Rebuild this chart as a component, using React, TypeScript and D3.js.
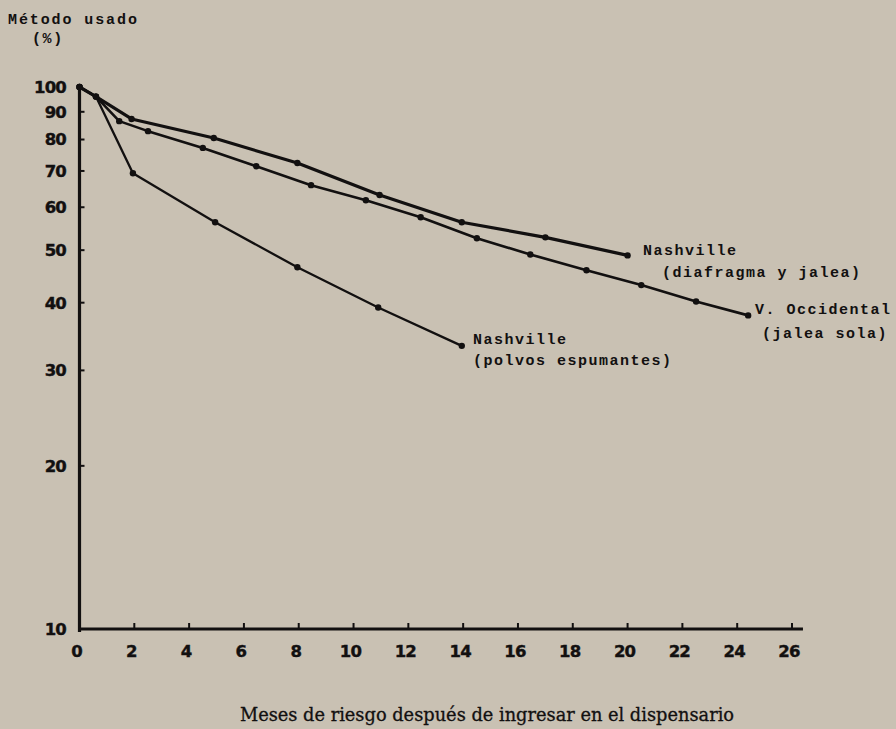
import React, { useEffect, useRef } from "react";
import * as d3 from "d3";

const W = 896;
const H = 729;

const xTicks = [0, 2, 4, 6, 8, 10, 12, 14, 16, 18, 20, 22, 24, 26];
const yTicks = [10, 20, 30, 40, 50, 60, 70, 80, 90, 100];
const yTickLabels = ["10", "20", "30", "40", "50", "60", "70", "80", "90", "100"];

const diafragmaX = [0, 0.6, 1.9, 4.9, 7.95, 10.95, 13.95, 17.0, 20.0];
const diafragmaY = [100, 96, 87.3, 80.5, 72.4, 63.2, 56.3, 52.8, 48.9];

const jaleaX = [0, 0.6, 1.45, 2.5, 4.5, 6.45, 8.45, 10.45, 12.45, 14.5, 16.45, 18.5, 20.5, 22.5, 24.4];
const jaleaY = [100, 96, 86.5, 82.9, 77.2, 71.4, 65.9, 61.8, 57.5, 52.6, 49.1, 45.9, 43.1, 40.2, 37.9];

const polvosX = [0, 0.6, 1.95, 4.95, 7.95, 10.9, 13.95];
const polvosY = [100, 96, 69.3, 56.3, 46.5, 39.2, 33.3];

const seriesNames = ["diafragma", "jalea", "polvos"];
const seriesLabels = [
  ["Nashville", "(diafragma y jalea)"],
  ["V. Occidental", "(jalea sola)"],
  ["Nashville", "(polvos espumantes)"],
];

export default function App() {
  const ref = useRef<SVGSVGElement>(null);

  useEffect(() => {
    const svg = d3.select(ref.current);
    svg.selectAll("*").remove();

    const x = d3.scaleLinear().domain([0, 26]).range([79.5, 792]);
    const y = d3.scaleLog().domain([10, 100]).range([629, 87]);

    svg.append("rect").attr("width", W).attr("height", H).attr("fill", "#c9c1b3");

    const ink = "#121010";
    const mono = "'Liberation Mono', 'DejaVu Sans Mono', monospace";
    const numFont = "'DejaVu Sans', sans-serif";

    // axes
    const g = svg.append("g");
    g.append("line")
      .attr("x1", x(0)).attr("x2", x(0))
      .attr("y1", y(100) - 3).attr("y2", y(10) + 3)
      .attr("stroke", ink).attr("stroke-width", 3.2);
    g.append("line")
      .attr("x1", x(0) - 1).attr("x2", x(26.4))
      .attr("y1", y(10)).attr("y2", y(10))
      .attr("stroke", ink).attr("stroke-width", 3.2);

    // y ticks
    yTicks.forEach((t, i) => {
      if (t !== 10 && t !== 100) {
        g.append("line")
          .attr("x1", x(0)).attr("x2", x(0) + 5)
          .attr("y1", y(t)).attr("y2", y(t))
          .attr("stroke", ink).attr("stroke-width", 2);
      }
      g.append("text")
        .attr("x", 66).attr("y", y(t))
        .attr("dy", "0.36em")
        .attr("text-anchor", "end")
        .attr("font-family", numFont)
        .attr("font-weight", "bold")
        .attr("font-size", 16.5)
        .attr("letter-spacing", -0.8)
        .attr("stroke", ink)
        .attr("stroke-width", 0.4)
        .attr("fill", ink)
        .text(yTickLabels[i]);
    });

    // x ticks
    xTicks.forEach((t) => {
      if (t !== 0) {
        g.append("line")
          .attr("x1", x(t)).attr("x2", x(t))
          .attr("y1", y(10)).attr("y2", y(10) - 6)
          .attr("stroke", ink).attr("stroke-width", 2);
      }
      g.append("text")
        .attr("x", x(t) - 3).attr("y", 657)
        .attr("text-anchor", "middle")
        .attr("font-family", numFont)
        .attr("font-weight", "bold")
        .attr("font-size", 16.5)
        .attr("letter-spacing", -0.8)
        .attr("stroke", ink)
        .attr("stroke-width", 0.4)
        .attr("fill", ink)
        .text(String(t));
    });

    const data = [
      { xs: diafragmaX, ys: diafragmaY, w: 3.2 },
      { xs: jaleaX, ys: jaleaY, w: 2.6 },
      { xs: polvosX, ys: polvosY, w: 2.3 },
    ];

    const line = d3
      .line<[number, number]>()
      .x((d) => x(d[0]))
      .y((d) => y(d[1]));

    data.forEach((s, i) => {
      const pts = s.xs.map((v, k) => [v, s.ys[k]] as [number, number]);
      const sg = svg.append("g").attr("class", seriesNames[i]);
      sg.append("path")
        .attr("d", line(pts) as string)
        .attr("fill", "none")
        .attr("stroke", ink)
        .attr("stroke-width", s.w)
        .attr("stroke-linejoin", "round")
        .attr("stroke-linecap", "round");
      sg.selectAll("circle")
        .data(pts)
        .enter()
        .append("circle")
        .attr("cx", (d) => x(d[0]))
        .attr("cy", (d) => y(d[1]))
        .attr("r", 3.2)
        .attr("fill", ink);
    });

    // series labels
    const labelPos = [
      [[643, 255], [662, 277]],
      [[755, 314], [762, 338]],
      [[473, 344], [473, 365]],
    ];
    seriesLabels.forEach((lines, i) => {
      lines.forEach((txt, k) => {
        svg.append("text")
          .attr("x", labelPos[i][k][0])
          .attr("y", labelPos[i][k][1])
          .attr("font-family", mono)
          .attr("font-weight", "bold")
          .attr("font-size", 15)
          .attr("letter-spacing", 1.5)
          .attr("fill", ink)
          .text(txt);
      });
    });

    // y title
    svg.append("text")
      .attr("x", 8).attr("y", 24)
      .attr("font-family", mono)
      .attr("font-weight", "bold")
      .attr("font-size", 15)
      .attr("letter-spacing", 1.9)
      .attr("fill", ink)
      .text("Método usado");
    svg.append("text")
      .attr("x", 32).attr("y", 43)
      .attr("font-family", mono)
      .attr("font-weight", "bold")
      .attr("font-size", 15)
      .attr("letter-spacing", 1.6)
      .attr("fill", ink)
      .text("(%)");

    // x title
    svg.append("text")
      .attr("x", 487).attr("y", 721)
      .attr("text-anchor", "middle")
      .attr("font-family", "'DejaVu Serif', serif")
      .attr("font-size", 17.8)
      .attr("stroke", ink)
      .attr("stroke-width", 0.3)
      .attr("fill", ink)
      .text("Meses de riesgo después de ingresar en el dispensario");
  }, []);

  return (
    <div style={{ position: "absolute", left: 0, top: 0 }}>
      <svg ref={ref} width={W} height={H} style={{ display: "block" }} />
    </div>
  );
}
